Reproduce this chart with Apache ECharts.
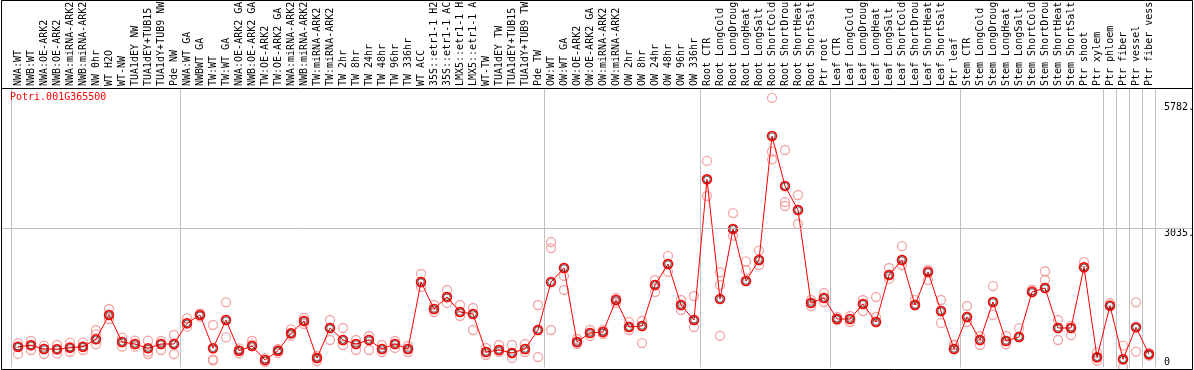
<!DOCTYPE html>
<html><head><meta charset="utf-8">
<script src="https://cdn.jsdelivr.net/npm/echarts@6/dist/echarts.min.js"></script>
<style>html,body{margin:0;padding:0;background:#fff}#c{width:1194px;height:370px}</style>
</head><body><div id="c"></div>
<script>
const chartTitle = 'Potri.001G365500';
const categories = [
 'NWA:WT','NWB:WT','NWA:OE-ARK2','NWB:OE-ARK2','NWA:miRNA-ARK2','NWB:miRNA-ARK2','NW 0hr','WT H2O','WT-NW','TUA1dEY NW','TUA1dEY+TUB15','TUA1dY+TUB9 NW','Pde NW',
 'NWA:WT GA','NWBWT GA','TW:WT','TW:WT GA','NWA:OE-ARK2 GA','NWB:OE-ARK2 GA','TW:OE-ARK2','TW:OE-ARK2 GA','NWA:miRNA-ARK2','NWB:miRNA-ARK2','TW:miRNA-ARK2','TW:miRNA-ARK2','TW 2hr','TW 8hr','TW 24hr','TW 48hr','TW 96hr','TW 336hr','WT ACC','35S::etr1-1 H2','35S::etr1-1 AC','LMX5::etr1-1 H','LMX5::etr1-1 A','WT-TW','TUA1dEY TW','TUA1dEY+TUB15','TUA1dY+TUB9 TW','Pde TW',
 'OW:WT','OW:WT GA','OW:OE-ARK2','OW:OE-ARK2 GA','OW:miRNA-ARK2','OW:miRNA-ARK2','OW 2hr','OW 8hr','OW 24hr','OW 48hr','OW 96hr','OW 336hr',
 'Root CTR','Root LongCold','Root LongDroug','Root LongHeat','Root LongSalt','Root ShortCold','Root ShortDrou','Root ShortHeat','Root ShortSalt','Ptr root',
 'Leaf CTR','Leaf LongCold','Leaf LongDroug','Leaf LongHeat','Leaf LongSalt','Leaf ShortCold','Leaf ShortDrou','Leaf ShortHeat','Leaf ShortSalt','Ptr leaf',
 'Stem CTR','Stem LongCold','Stem LongDroug','Stem LongHeat','Stem LongSalt','Stem ShortCold','Stem ShortDrou','Stem ShortHeat','Stem ShortSalt','Ptr shoot','Ptr xylem','Ptr phloem','Ptr fiber','Ptr vessel','Ptr fiber vess'
];
// group separators: category index where each group starts
const groupStarts = [0, 13, 41, 53, 63, 73, 84, 85, 86, 87];
const meanValues = [
 447,477,397,390,425,447,608,1138,549,506,
 412,506,506,957,1138,412,1029,360,462,157,
 360,739,1007,201,855,593,506,593,397,506,
 397,1857,1269,1530,1203,1160,331,375,310,397,
 811,1857,2163,549,746,767,1465,876,898,1792,
 2250,1356,1029,4096,1487,3013,1879,2337,5040,3950,
 3427,1400,1509,1051,1051,1378,985,2010,2337,1356,
 2075,1225,397,1094,593,1421,571,658,1639,1727,
 855,855,2178,216,1341,172,870,281
];
const rep1 = [
 527,571,469,484,534,543,811,1269,643,578,
 578,571,702,1066,1175,920,1415,412,571,200,
 397,826,1073,244,1029,855,593,680,484,571,
 462,2032,1356,1683,1356,1291,419,484,484,506,
 1356,2729,2163,615,811,811,1509,985,1007,1901,
 2425,1465,1552,4496,2070,3361,2306,2542,5870,4735,
 3754,1465,1618,1094,1116,1465,1530,2163,2638,1465,
 2119,1465,484,1334,680,1769,680,850,1683,2092,
 1029,900,2290,316,1394,469,1415,310
];
const rep2 = [
 440,484,397,397,440,440,717,1138,549,506,
 338,506,506,957,1138,172,1029,360,499,157,
 360,739,1007,201,855,593,506,593,397,506,
 397,1857,1269,1530,1203,1160,331,375,310,397,
 811,2598,1989,549,746,767,1465,876,898,1792,
 2250,1356,1029,4096,1792,3013,2110,2337,4698,3601,
 3427,1400,1509,1051,1051,1378,1094,2010,2337,1356,
 2075,1225,397,1094,593,1421,571,658,1639,1901,
 855,855,2178,216,1341,172,870,281
];
const rep3 = [
 290,375,288,294,331,375,499,1051,447,447,
 288,375,288,883,1101,144,652,303,462,113,
 310,687,942,135,593,484,375,375,331,419,
 331,1748,1203,1400,1116,811,266,331,201,331,
 222,811,1683,506,680,724,1400,811,527,1639,
 2076,1247,876,3732,686,2867,1879,2228,4532,3514,
 3122,1334,1421,1029,985,1225,985,1925,2228,1356,
 1900,960,484,985,484,1140,500,658,1683,1727,
 593,700,2178,142,1341,0,340,250
];
const yTickLabels = [3035, 5782];
const yZeroLabel = [0];
const midLineValue = 3035;

const FONT = 'DejaVu Sans Mono';
const chart = echarts.init(document.getElementById('c'), null, {renderer: 'canvas'});
const repStyle = {color: 'rgba(255,255,255,0)', borderColor: '#f09090', borderWidth: 1.3};
function repSeries(arr) {
  return {type: 'scatter', data: arr, symbol: 'circle', symbolSize: 9, itemStyle: repStyle,
          silent: true, z: 2, animation: false};
}
chart.setOption({
  animation: false,
  backgroundColor: '#fff',
  title: {text: chartTitle, left: 10, top: 92, padding: 0,
          textStyle: {color: '#ff0000', fontSize: 10, fontWeight: 'normal', fontFamily: FONT}},
  grid: {left: 11.5, right: 38.5, top: 89, bottom: 2.8, outerBoundsMode: 'none', containLabel: false},
  xAxis: {
    type: 'category', data: categories, position: 'top', boundaryGap: true,
    axisLine: {show: false},
    axisTick: {show: true, length: 89, inside: false,
               interval: (i) => groupStarts.indexOf(i) >= 0,
               lineStyle: {color: '#c0c0c0', width: 1}},
    splitLine: {show: true, interval: (i) => groupStarts.indexOf(i) >= 0,
                lineStyle: {color: '#c0c0c0', width: 1}},
    axisLabel: {interval: 0, rotate: 90, margin: 3, color: '#000', fontSize: 10, fontFamily: FONT}
  },
  yAxis: [
    {type: 'value', min: 0, max: 6065, position: 'right', offset: 8.5,
     axisLine: {show: false}, axisTick: {show: false}, splitLine: {show: false},
     axisLabel: {customValues: yTickLabels, formatter: (v) => v + '.', margin: 0, align: 'left',
                 verticalAlign: 'top', color: '#000', fontSize: 10, fontFamily: FONT}},
    {type: 'value', min: 0, max: 6065, position: 'right', offset: 8.5,
     axisLine: {show: false}, axisTick: {show: false}, splitLine: {show: false},
     axisLabel: {customValues: yZeroLabel, margin: 0, align: 'left',
                 verticalAlign: 'bottom', color: '#000', fontSize: 10, fontFamily: FONT}}
  ],
  series: [
    repSeries(rep1), repSeries(rep2), repSeries(rep3),
    {type: 'line', data: meanValues, symbol: 'circle', symbolSize: 9, z: 4,
     lineStyle: {color: '#ff0000', width: 1},
     itemStyle: {color: 'rgba(255,255,255,0)', borderColor: '#ff0000', borderWidth: 1.5},
     markLine: {silent: true, symbol: 'none', label: {show: false},
                lineStyle: {color: '#c0c0c0', width: 1, type: 'solid'},
                data: [[{x: 1, yAxis: midLineValue}, {x: 1192, yAxis: midLineValue}]]}},
    {type: 'scatter', data: meanValues, symbol: 'circle', symbolSize: 6.5, z: 5, silent: true,
     itemStyle: {color: 'rgba(255,255,255,0)', borderColor: '#000', borderWidth: 0.8}}
  ],
  graphic: [
    {type: 'rect', silent: true, z: 100, shape: {x: 1.5, y: 0.5, width: 1191, height: 369},
     style: {fill: null, stroke: '#000', lineWidth: 1}},
    {type: 'line', silent: true, z: 100, shape: {x1: 1.5, y1: 88.5, x2: 1192.5, y2: 88.5},
     style: {stroke: '#000', lineWidth: 1}}
  ]
});
</script></body></html>
